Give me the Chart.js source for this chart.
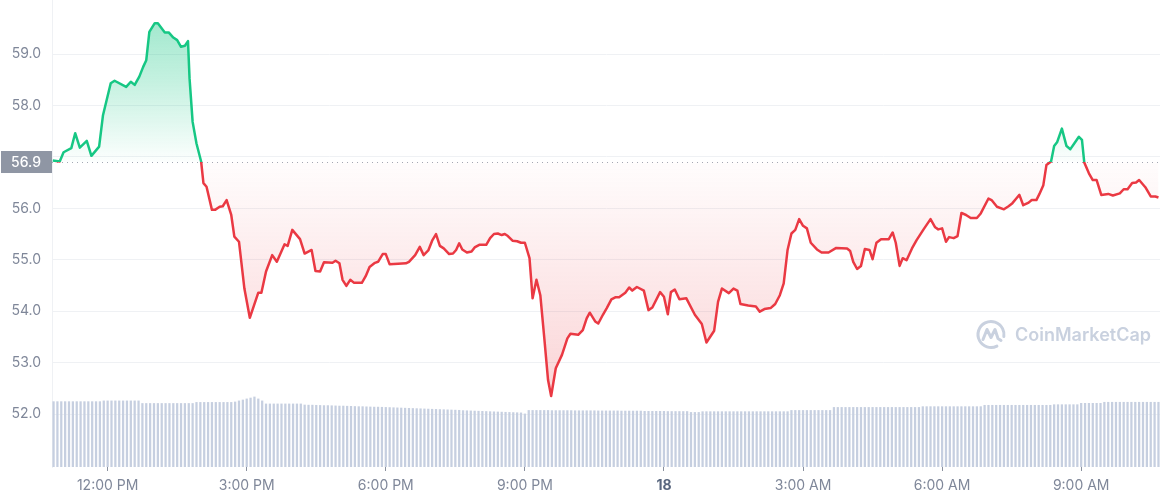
<!DOCTYPE html>
<html>
<head>
<meta charset="utf-8">
<script src="https://cdn.jsdelivr.net/npm/chart.js@4.4.1/dist/chart.umd.min.js"></script>
<style>
  html, body { margin: 0; padding: 0; background: #fff; }
  .wrap { position: relative; width: 1161px; height: 500px; }
</style>
</head>
<body>
<div class="wrap"><canvas id="chart"></canvas></div>
<script>
// Price line (minutes after 12:00 PM on the 17th)
const basePrice = 56.9;
const times = [
  -71, -62, -57, -47, -42, -36, -27, -21, -11, -6,
  4, 9, 24, 30, 35, 41, 46, 50, 54, 61,
  65, 74, 79, 85, 90, 95, 100, 104, 106, 110,
  115, 121, 124, 128, 135, 139, 145, 149, 154, 160,
  164, 170, 177, 184, 195, 199, 205, 213, 219, 229,
  233, 239, 249, 255, 264, 269, 275, 280, 291, 295,
  300, 304, 309, 314, 319, 329, 334, 339, 346, 350,
  356, 360, 365, 376, 386, 390, 398, 404, 409, 415,
  420, 425, 430, 435, 442, 447, 451, 455, 459, 465,
  471, 475, 481, 490, 495, 500, 505, 510, 514, 518,
  524, 530, 535, 540, 546, 550, 555, 560, 565, 570,
  574, 580, 588, 595, 599, 609, 615, 620, 624, 631,
  635, 641, 646, 652, 657, 662, 670, 675, 679, 685,
  694, 700, 705, 715, 720, 725, 729, 734, 740, 749,
  760, 769, 775, 785, 790, 795, 804, 810, 815, 819,
  829, 839, 844, 850, 858, 864, 870, 875, 880, 885,
  890, 895, 900, 905, 910, 918, 924, 933, 943, 957,
  961, 965, 970, 975, 980, 986, 990, 995, 1001, 1011,
  1016, 1020, 1025, 1029, 1034, 1041, 1047, 1056, 1065, 1071,
  1075, 1080, 1085, 1089, 1095, 1100, 1105, 1111, 1117, 1125,
  1130, 1140, 1144, 1151, 1160, 1166, 1171, 1176, 1180, 1185,
  1192, 1196, 1202, 1206, 1211, 1215, 1221, 1225, 1229, 1235,
  1241, 1246, 1251, 1257, 1261, 1264, 1270, 1275, 1280, 1286,
  1295, 1301, 1310, 1315, 1320, 1326, 1331, 1335, 1343, 1350,
  1356, 1360
];
const prices = [
  56.93, 56.91, 57.09, 57.17, 57.46, 57.18, 57.31, 57.02, 57.20, 57.81,
  58.43, 58.48, 58.36, 58.46, 58.40, 58.56, 58.75, 58.88, 59.43, 59.60,
  59.60, 59.42, 59.42, 59.32, 59.27, 59.14, 59.16, 59.25, 58.53, 57.68,
  57.26, 56.91, 56.49, 56.42, 55.97, 55.97, 56.03, 56.04, 56.16, 55.87,
  55.45, 55.35, 54.44, 53.87, 54.36, 54.36, 54.77, 55.09, 54.96, 55.30,
  55.27, 55.58, 55.40, 55.12, 55.19, 54.78, 54.77, 54.95, 54.94, 54.98,
  54.93, 54.61, 54.49, 54.61, 54.55, 54.55, 54.68, 54.86, 54.94, 54.96,
  55.11, 55.11, 54.91, 54.92, 54.93, 54.96, 55.09, 55.25, 55.09, 55.18,
  55.37, 55.50, 55.27, 55.22, 55.11, 55.12, 55.19, 55.32, 55.20, 55.14,
  55.16, 55.24, 55.29, 55.29, 55.42, 55.50, 55.51, 55.48, 55.50, 55.46,
  55.37, 55.36, 55.33, 55.33, 55.03, 54.25, 54.61, 54.31, 53.50, 52.66,
  52.35, 52.89, 53.15, 53.47, 53.56, 53.54, 53.63, 53.86, 53.97, 53.80,
  53.76, 53.93, 54.06, 54.23, 54.27, 54.27, 54.36, 54.46, 54.40, 54.47,
  54.40, 54.02, 54.07, 54.37, 54.28, 53.94, 54.37, 54.42, 54.23, 54.25,
  53.93, 53.75, 53.39, 53.62, 54.18, 54.44, 54.35, 54.44, 54.40, 54.14,
  54.11, 54.09, 53.99, 54.04, 54.06, 54.14, 54.31, 54.54, 55.19, 55.51,
  55.58, 55.79, 55.66, 55.61, 55.33, 55.20, 55.14, 55.14, 55.23, 55.22,
  55.17, 54.96, 54.82, 54.88, 55.21, 55.19, 55.01, 55.33, 55.40, 55.40,
  55.53, 55.33, 54.88, 55.03, 54.99, 55.22, 55.38, 55.59, 55.79, 55.63,
  55.59, 55.61, 55.35, 55.44, 55.42, 55.46, 55.91, 55.87, 55.81, 55.81,
  55.90, 56.19, 56.16, 56.03, 55.98, 56.04, 56.10, 56.19, 56.26, 56.06,
  56.11, 56.16, 56.16, 56.28, 56.45, 56.84, 56.91, 57.21, 57.29, 57.55,
  57.21, 57.15, 57.26, 57.39, 57.33, 56.89, 56.68, 56.55, 56.55, 56.26,
  56.28, 56.25, 56.29, 56.37, 56.37, 56.49, 56.50, 56.55, 56.41, 56.23,
  56.23, 56.21
];

// Volume bars, one every 5 minutes from 10:50 AM (values in $M)
const volStart = -70;
const volStep = 5;
const volumes = [
  431, 431, 431, 431, 431, 431, 431, 431, 431, 431, 431, 431, 431,
  436, 436, 436, 436, 436, 436, 436, 436, 436, 436,
  419, 419, 419, 419, 419, 419, 419, 419, 419, 419, 419, 419, 419, 419,
  426, 426, 426, 426, 426, 426, 426, 426, 426, 426,
  429, 436, 442, 449, 455, 462,
  449, 436,
  416, 416, 416, 416, 416, 416, 416, 416, 416, 416,
  409, 408, 408, 407, 406, 405, 405, 404, 403, 402, 402, 401, 400,
  399, 398, 398, 397, 396, 395, 395, 394, 393, 392, 391, 390,
  389, 388, 387, 386, 385, 384, 383, 382, 381, 380, 379, 378, 377, 376, 375, 374,
  372, 371, 370, 369, 368, 367, 366, 365, 364, 363, 362, 361, 360, 359, 358, 357,
  350,
  373, 373, 373, 373, 373, 373, 372, 372, 372, 372, 372, 372,
  371, 371, 371, 371, 371, 371, 370, 370, 370, 370, 370, 370,
  369, 369, 369, 369, 369, 369, 367, 367, 367, 367, 367, 367,
  366, 366, 366, 366, 366, 366,
  360, 360, 360,
  365, 365, 365, 365, 365, 365, 365, 365, 365, 365, 365, 365,
  365, 365, 365, 365, 365, 365, 365, 365, 365, 365, 365,
  373, 373, 373, 373, 373, 373, 373, 373, 373, 373, 373,
  393, 393, 393, 393, 393, 393, 393, 393, 393, 393, 393, 393,
  393, 393, 393, 393, 393, 393, 393, 393, 393, 393, 393,
  398, 398, 398, 398, 398, 398, 398, 398, 398, 398, 398, 398, 398, 398, 398, 398,
  407, 407, 407, 407, 407, 407, 407, 407, 407, 407, 407, 407, 407, 407, 407, 407, 407, 407,
  411, 411, 411, 411, 411, 411, 411,
  420, 420, 420, 420, 420, 420,
  427, 427, 427, 427, 427, 427, 427, 427, 427, 427, 427, 427, 427, 427, 427
];

// Axes
const yMin = 50.97;
const yMax = 60.05;
const yTicks = [52, 53, 54, 55, 56, 57, 58, 59];
const xTicks = [0, 180, 360, 540, 720, 900, 1080, 1260];
const xLabels = ['12:00 PM', '3:00 PM', '6:00 PM', '9:00 PM', '18', '3:00 AM', '6:00 AM', '9:00 AM'];

const green = '#16c784';
const red = '#ea3943';
const font = 'Inter, "DejaVu Sans", sans-serif';

function splitGradient(chart, kind) {
  const { ctx, chartArea: a, scales } = chart;
  if (!a || !scales.y) return kind === 'line' ? green : 'transparent';
  const yb = scales.y.getPixelForValue(basePrice);
  const f = Math.min(Math.max((yb - a.top) / (a.bottom - a.top), 0), 1);
  const g = ctx.createLinearGradient(0, a.top, 0, a.bottom);
  if (kind === 'line') {
    g.addColorStop(0, green);
    g.addColorStop(f, green);
    g.addColorStop(f, red);
    g.addColorStop(1, red);
  } else {
    g.addColorStop(0, 'rgba(22,199,132,0.45)');
    g.addColorStop(f * 0.5, 'rgba(22,199,132,0.25)');
    g.addColorStop(f, 'rgba(22,199,132,0.01)');
    g.addColorStop(f, 'rgba(234,57,67,0.01)');
    g.addColorStop(1, 'rgba(234,57,67,0.28)');
  }
  return g;
}

// dotted open-price line + watermark
const backdrop = {
  id: 'backdrop',
  beforeDatasetsDraw(chart) {
    const { ctx, chartArea: a, scales } = chart;
    const yb = Math.round(scales.y.getPixelForValue(basePrice)) + 0.5;
    ctx.save();
    ctx.strokeStyle = '#a3a9b4';
    ctx.lineWidth = 1;
    ctx.setLineDash([1, 4]);
    ctx.beginPath();
    ctx.moveTo(a.left, yb);
    ctx.lineTo(a.right, yb);
    ctx.stroke();
    ctx.setLineDash([]);

    // CoinMarketCap mark
    const cx = 991, cy = 334.5, r = 13;
    ctx.strokeStyle = '#c9d1df';
    ctx.lineWidth = 3;
    ctx.lineCap = 'round';
    ctx.lineJoin = 'round';
    ctx.beginPath();
    ctx.arc(cx, cy, r, 0.35 * Math.PI, 2.05 * Math.PI, false);
    ctx.stroke();
    ctx.beginPath();
    ctx.moveTo(cx - 8, cy + 5);
    ctx.lineTo(cx - 4, cy - 5);
    ctx.lineTo(cx, cy + 3);
    ctx.lineTo(cx + 4, cy - 5);
    ctx.lineTo(cx + 7, cy + 4);
    ctx.lineTo(cx + 10, cy + 6);
    ctx.stroke();
    ctx.fillStyle = '#c9d1df';
    ctx.font = '600 18px ' + font;
    ctx.textBaseline = 'middle';
    ctx.textAlign = 'left';
    ctx.fillText('CoinMarketCap', 1015, cy + 1);
    ctx.restore();
  },
  afterDraw(chart) {
    const { ctx, scales } = chart;
    const yb = scales.y.getPixelForValue(basePrice);
    ctx.save();
    ctx.fillStyle = '#8f96a4';
    ctx.fillRect(1, yb - 11, 51, 22);
    ctx.fillStyle = '#ffffff';
    ctx.font = '500 14px ' + font;
    ctx.textAlign = 'right';
    ctx.textBaseline = 'middle';
    ctx.fillText(basePrice.toFixed(1), 41, yb + 0.5);
    ctx.restore();
  }
};

new Chart(document.getElementById('chart'), {
  type: 'line',
  data: {
    datasets: [
      {
        type: 'line',
        data: times.map((t, i) => ({ x: t, y: prices[i] })),
        borderColor: ctx => splitGradient(ctx.chart, 'line'),
        backgroundColor: ctx => splitGradient(ctx.chart, 'fill'),
        fill: { value: basePrice },
        borderWidth: 2.5,
        borderJoinStyle: 'round',
        pointRadius: 0,
        tension: 0,
        yAxisID: 'y',
        order: 0
      },
      {
        type: 'bar',
        data: volumes.map((v, i) => ({ x: volStart + i * volStep, y: v })),
        backgroundColor: '#c6cfe0',
        barThickness: 1.6,
        grouped: false,
        yAxisID: 'y2',
        order: 1
      }
    ]
  },
  options: {
    responsive: true,
    maintainAspectRatio: false,
    animation: false,
    layout: { padding: { left: 0, right: 1, top: 0, bottom: 0 } },
    plugins: { legend: { display: false }, tooltip: { enabled: false } },
    scales: {
      x: {
        type: 'linear',
        min: -72,
        max: 1362,
        offset: false,
        afterBuildTicks: s => { s.ticks = xTicks.map(v => ({ value: v })); },
        afterFit: s => { s.height = 33; s.paddingLeft = 0; s.paddingRight = 0; },
        grid: { drawOnChartArea: false, drawTicks: true, tickLength: 4, tickColor: '#8a919e', offset: false },
        border: { display: false },
        ticks: {
          autoSkip: false,
          maxRotation: 0,
          padding: 6,
          color: c => (c.tick && c.tick.value === 720) ? '#58667e' : '#7f8799',
          font: c => ({ family: font, size: 14, weight: (c.tick && c.tick.value === 720) ? 'bold' : 'normal' }),
          callback: (v, i) => xLabels[i]
        }
      },
      y: {
        type: 'linear',
        position: 'left',
        min: yMin,
        max: yMax,
        afterBuildTicks: s => { s.ticks = yTicks.map(v => ({ value: v })); },
        afterFit: s => { s.width = 52; s.paddingTop = 0; s.paddingBottom = 0; },
        grid: { color: '#eff1f4', drawTicks: false },
        border: { display: true, color: '#eff1f4' },
        ticks: {
          padding: 11,
          color: '#7f8799',
          font: { family: font, size: 14 },
          callback: v => v === 57 ? '' : v.toFixed(1)
        }
      },
      y2: { type: 'linear', display: false, min: 0, max: 3080 }
    }
  },
  plugins: [backdrop]
});
</script>
</body>
</html>
